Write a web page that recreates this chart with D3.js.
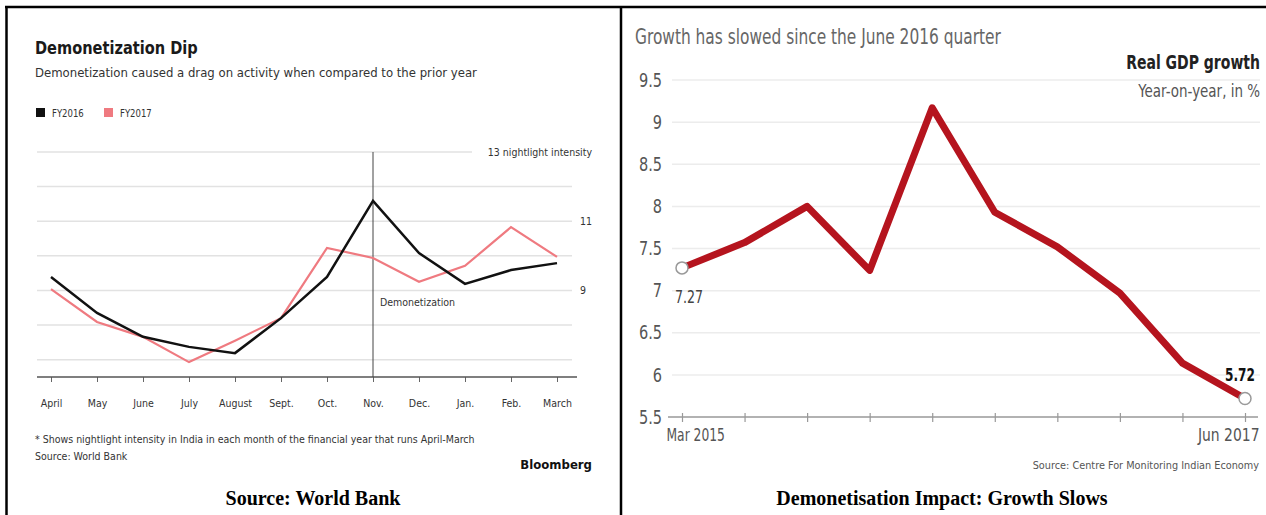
<!DOCTYPE html>
<html>
<head>
<meta charset="utf-8">
<script src="https://cdn.jsdelivr.net/npm/d3@7"></script>
<style>
  body { margin: 0; background: #fff; }
</style>
</head>
<body>
<div id="chart"></div>
<script>
// DATA
const months = ["April", "May", "June", "July", "August", "Sept.", "Oct.", "Nov.", "Dec.", "Jan.", "Feb.", "March"];
const fy2016 = [9.39, 8.35, 7.66, 7.37, 7.19, 8.2, 9.39, 11.59, 10.08, 9.19, 9.59, 9.79];
const fy2017 = [9.04, 8.09, 7.66, 6.93, 7.55, 8.2, 10.23, 9.94, 9.25, 9.71, 10.83, 9.97];
const lightTicks = [7, 8, 9, 10, 11, 12, 13];
const lightLabels = [9, 11];

const quarters = ["Mar 2015", "Jun 2015", "Sep 2015", "Dec 2015", "Mar 2016", "Jun 2016", "Sep 2016", "Dec 2016", "Mar 2017", "Jun 2017"];
const gdp = [7.27, 7.57, 8.0, 7.24, 9.17, 7.93, 7.52, 6.97, 6.14, 5.72];
const gdpTicks = [5.5, 6, 6.5, 7, 7.5, 8, 8.5, 9, 9.5];

const width = 1266, height = 515;
const narrow = '"Liberation Sans Narrow", "DejaVu Sans Condensed", sans-serif';
const serif = '"Liberation Serif", "Times New Roman", serif';

// squeeze text horizontally to mimic the condensed fonts of the originals
function squeeze(sel, r) {
  sel.each(function() {
    const w = this.getComputedTextLength();
    d3.select(this).attr("textLength", w * r).attr("lengthAdjust", "spacingAndGlyphs");
  });
  return sel;
}
// right-aligned condensed text: end anchored, scaled around its anchor point
function rightText(parent, xr, y, r) {
  return parent.append("text")
    .attr("text-anchor", "end")
    .attr("transform", `translate(${xr},${y}) scale(${r},1)`);
}

//SVG
const svg = d3.select("#chart").append("svg")
  .attr("width", width)
  .attr("height", height)
  .style("background-color", "#fff");

//BORDERS
svg.append("line").attr("x1", 5).attr("x2", width).attr("y1", 7).attr("y2", 7)
  .attr("stroke", "#000").attr("stroke-width", 2.5);
svg.append("line").attr("x1", 6.5).attr("x2", 6.5).attr("y1", 6).attr("y2", height)
  .attr("stroke", "#000").attr("stroke-width", 2.5);
svg.append("line").attr("x1", 621).attr("x2", 621).attr("y1", 6).attr("y2", height)
  .attr("stroke", "#000").attr("stroke-width", 2.5);

// ================= LEFT: Demonetization Dip =================
const left = svg.append("g").attr("font-family", narrow);

const xL = d3.scalePoint().domain(months).range([51, 557]);
const yL = d3.scaleLinear().domain([6.5, 13]).range([377, 152]);

squeeze(left.append("text").attr("x", 35).attr("y", 54)
  .attr("font-size", 18).attr("font-weight", "bold").attr("fill", "#1a1a1a")
  .text("Demonetization Dip"), 0.9);
left.append("text").attr("x", 35).attr("y", 77)
  .attr("font-size", 13).attr("fill", "#333")
  .text("Demonetization caused a drag on activity when compared to the prior year");

//LEGEND
const legend = [{name: "FY2016", color: "#111"}, {name: "FY2017", color: "#ef7a80"}];
legend.forEach((d, i) => {
  const lx = 36 + i * 68;
  left.append("rect").attr("x", lx).attr("y", 108).attr("width", 9).attr("height", 9).attr("fill", d.color);
  squeeze(left.append("text").attr("x", lx + 16).attr("y", 116.5)
    .attr("font-size", 10.5).attr("fill", "#333").text(d.name), 0.9);
});

//GRID
left.selectAll("line.grid")
  .data(lightTicks)
  .join("line")
  .attr("class", "grid")
  .attr("x1", 37)
  .attr("x2", d => d === 13 ? 472 : 572)
  .attr("y1", d => yL(d)).attr("y2", d => yL(d))
  .attr("stroke", "#e2e2e2").attr("stroke-width", 1.5);

left.append("text").attr("x", 592).attr("y", yL(13) + 4)
  .attr("text-anchor", "end").attr("font-size", 10.5).attr("fill", "#333")
  .text("13 nightlight intensity");
left.selectAll("text.ylab")
  .data(lightLabels)
  .join("text")
  .attr("class", "ylab")
  .attr("x", 580).attr("y", d => yL(d) + 4)
  .attr("font-size", 10.5).attr("fill", "#333")
  .text(d => d);

//X AXIS
const axL = left.append("g").attr("transform", "translate(0,377)")
  .call(d3.axisBottom(xL).tickSize(5).tickPadding(18));
axL.select(".domain").remove();
axL.selectAll(".tick line").attr("stroke", "#666");
axL.selectAll(".tick text").attr("font-family", narrow).attr("font-size", 10.5).attr("fill", "#333");
left.append("line").attr("x1", 37).attr("x2", 577).attr("y1", 377).attr("y2", 377)
  .attr("stroke", "#555").attr("stroke-width", 1.5);

//DEMONETIZATION MARKER
left.append("line").attr("x1", xL("Nov.")).attr("x2", xL("Nov."))
  .attr("y1", yL(13)).attr("y2", 377)
  .attr("stroke", "#444").attr("stroke-width", 1);
left.append("text").attr("x", xL("Nov.") + 7).attr("y", 306)
  .attr("font-size", 10.5).attr("fill", "#333").text("Demonetization");

//LINES
const lineL = d3.line().x((d, i) => xL(months[i])).y(d => yL(d));
left.append("path").datum(fy2017).attr("d", lineL)
  .attr("fill", "none").attr("stroke", "#ef7a80").attr("stroke-width", 2.2);
left.append("path").datum(fy2016).attr("d", lineL)
  .attr("fill", "none").attr("stroke", "#111").attr("stroke-width", 2.5);

//NOTES
left.append("text").attr("x", 35).attr("y", 443)
  .attr("font-size", 10.5).attr("fill", "#333")
  .text("* Shows nightlight intensity in India in each month of the financial year that runs April-March");
left.append("text").attr("x", 35).attr("y", 460)
  .attr("font-size", 10.5).attr("fill", "#333").text("Source: World Bank");
left.append("text").attr("x", 592).attr("y", 469)
  .attr("text-anchor", "end").attr("font-size", 13).attr("font-weight", "bold")
  .attr("fill", "#111").text("Bloomberg");

svg.append("text").attr("x", 313).attr("y", 505)
  .attr("text-anchor", "middle").attr("font-family", serif)
  .attr("font-size", 20).attr("font-weight", "bold").text("Source: World Bank");

// ================= RIGHT: Real GDP growth =================
const right = svg.append("g").attr("font-family", narrow);

const xR = d3.scalePoint().domain(quarters).range([682, 1245]);
const yR = d3.scaleLinear().domain([5.5, 9.5]).range([417, 80]);

squeeze(right.append("text").attr("x", 635).attr("y", 44)
  .attr("font-size", 21).attr("fill", "#666")
  .text("Growth has slowed since the June 2016 quarter"), 0.815);

//GRID
right.selectAll("line.grid")
  .data(gdpTicks.filter(d => d > 5.5))
  .join("line")
  .attr("class", "grid")
  .attr("x1", 672).attr("x2", 1260)
  .attr("y1", d => yR(d)).attr("y2", d => yR(d))
  .attr("stroke", "#ececec").attr("stroke-width", 1.5);

right.selectAll("text.ylab")
  .data(gdpTicks)
  .join("text")
  .attr("class", "ylab")
  .attr("text-anchor", "end")
  .attr("transform", d => `translate(662,${yR(d)}) scale(0.85,1)`)
  .attr("dy", "0.35em")
  .attr("font-size", 19).attr("fill", "#555")
  .text(d => d);

rightText(right, 1260, 69, 0.82)
  .attr("font-size", 19).attr("font-weight", "bold")
  .attr("fill", "#222").text("Real GDP growth");
rightText(right, 1260, 97, 0.88)
  .attr("font-size", 17).attr("fill", "#555")
  .text("Year-on-year, in %");

//X AXIS
const axR = right.append("g").attr("transform", "translate(0,417)")
  .call(d3.axisBottom(xR).tickSizeInner(5).tickSizeOuter(0).tickPadding(6)
    .tickFormat((d, i) => (i === 0 || i === quarters.length - 1) ? d : ""));
axR.select(".domain").remove();
axR.selectAll(".tick line").attr("y1", -4).attr("stroke", "#999").attr("stroke-width", 1.2);
axR.selectAll(".tick text")
  .attr("font-family", narrow).attr("font-size", 18).attr("fill", "#555");
axR.selectAll(".tick text").filter((d, i) => i === 0)
  .attr("text-anchor", "start").attr("x", 0)
  .attr("transform", "translate(-16,0) scale(0.76,1)");
axR.selectAll(".tick text").filter((d, i) => i === quarters.length - 1)
  .attr("text-anchor", "end").attr("x", 0)
  .attr("transform", "translate(14,0) scale(0.86,1)");
right.append("line").attr("x1", 668).attr("x2", 1258).attr("y1", 417).attr("y2", 417)
  .attr("stroke", "#999").attr("stroke-width", 1.5);

right.append("text").attr("x", 1259).attr("y", 469)
  .attr("text-anchor", "end").attr("font-size", 10.8).attr("fill", "#555")
  .text("Source: Centre For Monitoring Indian Economy");

//LINE
const lineR = d3.line().x((d, i) => xR(quarters[i])).y(d => yR(d));
right.append("path").datum(gdp).attr("d", lineR)
  .attr("fill", "none").attr("stroke", "#b5141e").attr("stroke-width", 7)
  .attr("stroke-linejoin", "round").attr("stroke-linecap", "round");

const ends = [0, gdp.length - 1];
right.selectAll("circle.end")
  .data(ends)
  .join("circle")
  .attr("class", "end")
  .attr("cx", i => xR(quarters[i])).attr("cy", i => yR(gdp[i]))
  .attr("r", 6).attr("fill", "#fff").attr("stroke", "#999").attr("stroke-width", 1.5);

squeeze(right.append("text").attr("x", xR(quarters[0]) + 7).attr("y", yR(gdp[0]) + 35)
  .attr("text-anchor", "middle").attr("font-size", 18).attr("fill", "#444")
  .text(gdp[0]), 0.78);
rightText(right, xR(quarters[9]) + 10, yR(gdp[9]) - 17, 0.75)
  .attr("font-size", 18).attr("font-weight", "bold")
  .attr("fill", "#111").text(gdp[9]);

svg.append("text").attr("x", 942).attr("y", 505)
  .attr("text-anchor", "middle").attr("font-family", serif)
  .attr("font-size", 20).attr("font-weight", "bold").text("Demonetisation Impact: Growth Slows");
</script>
</body>
</html>
